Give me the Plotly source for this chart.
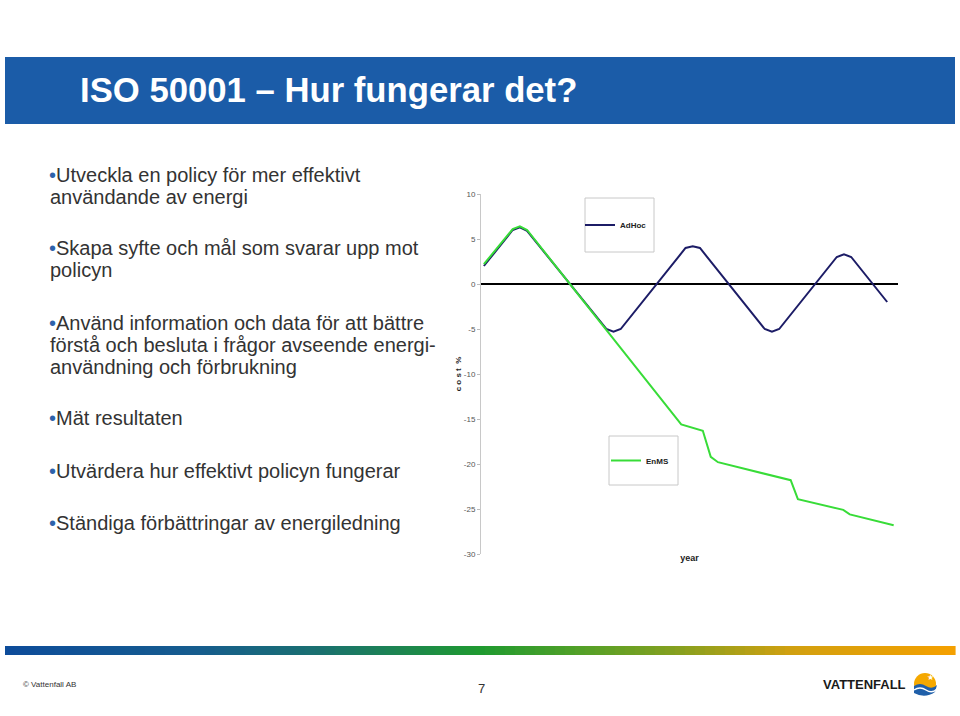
import plotly.graph_objects as go

W, H = 960, 716


def px(x):
    return x / W


def py(y):
    return 1 - y / H


# ---------------- data ----------------
adhoc_x = [0, 4, 5, 6, 17, 18, 19, 28, 29, 30, 39, 40, 41, 49, 50, 51, 56]
adhoc_y = [2.0, 6.0, 6.3, 5.9, -5.0, -5.3, -5.0, 4.0, 4.2, 4.0, -5.0, -5.3, -5.0, 3.0, 3.3, 3.0, -2.0]
enms_x = [0, 4, 5, 6, 27.4, 30.4, 31.5, 32.5, 42.6, 43.6, 49.9, 50.8, 56.9]
enms_y = [2.2, 6.1, 6.4, 6.0, -15.6, -16.3, -19.2, -19.8, -21.8, -23.9, -25.1, -25.6, -26.8]
y_ticks = [10, 5, 0, -5, -10, -15, -20, -25, -30]
y_ticktext = ["10", "5", "0", "-5", "-10", "-15", "-20", "-25", "-30"]
series_names = ["AdHoc", "EnMS"]

title_text = "ISO 50001 \u2013 Hur fungerar det?"
bullets = [
    ["Utveckla en policy för mer effektivt", "användande av energi"],
    ["Skapa syfte och mål som svarar upp mot", "policyn"],
    ["Använd information och data för att bättre",
     "förstå och besluta i frågor avseende energi-",
     "användning och förbrukning"],
    ["Mät resultaten"],
    ["Utvärdera hur effektivt policyn fungerar"],
    ["Ständiga förbättringar av energiledning"],
]
bullet_line_y = [[175, 197], [248, 270], [323, 345, 367], [418], [471], [523]]

FONT = "Liberation Sans, Arial, sans-serif"
NAVY = "#1c1c66"
GREEN = "#38dc38"
BLUE = "#1b5ca8"

fig = go.Figure()
fig.add_trace(go.Scatter(x=adhoc_x, y=adhoc_y, mode="lines", name=series_names[0],
                         line=dict(color=NAVY, width=2), legend="legend", showlegend=True))
fig.add_trace(go.Scatter(x=enms_x, y=enms_y, mode="lines", name=series_names[1],
                         line=dict(color=GREEN, width=2), legend="legend2", showlegend=True))

shapes = []
# banner
shapes.append(dict(type="rect", xref="paper", yref="paper", x0=px(5), x1=px(955),
                   y0=py(124), y1=py(57), fillcolor=BLUE, line=dict(width=0), layer="below"))
# legend boxes
shapes.append(dict(type="rect", xref="paper", yref="paper", x0=px(585), x1=px(654),
                   y0=py(252), y1=py(198), line=dict(color="#c8c8c8", width=1)))
shapes.append(dict(type="rect", xref="paper", yref="paper", x0=px(609), x1=px(678),
                   y0=py(485), y1=py(436), line=dict(color="#c8c8c8", width=1)))

# footer gradient bar
stops = [(0.0, (13, 76, 154)), (0.2, (22, 92, 142)), (0.33, (26, 112, 112)),
         (0.5, (31, 154, 48)), (0.6, (80, 160, 40)), (0.7, (130, 160, 32)),
         (0.83, (210, 160, 16)), (1.0, (245, 160, 0))]


def grad(t):
    for (t0, c0), (t1, c1) in zip(stops[:-1], stops[1:]):
        if t <= t1:
            f = (t - t0) / (t1 - t0)
            return "rgb(%d,%d,%d)" % tuple(round(a + (b - a) * f) for a, b in zip(c0, c1))
    return "rgb(%d,%d,%d)" % stops[-1][1]


x0b, x1b, nstrip = 5, 955, 95
step = (x1b - x0b) / nstrip
for i in range(nstrip):
    xa = x0b + i * step
    shapes.append(dict(type="rect", xref="paper", yref="paper", x0=px(xa), x1=px(xa + step + 0.6),
                       y0=py(655), y1=py(646), fillcolor=grad((i + 0.5) / nstrip),
                       line=dict(width=0), layer="below"))

# logo icon
shapes.append(dict(type="circle", xref="paper", yref="paper", x0=px(914), x1=px(936),
                   y0=py(695), y1=py(673), fillcolor="#f5a800", line=dict(width=0)))
shapes.append(dict(type="path", xref="paper", yref="paper",
                   path="M %f,%f Q %f,%f %f,%f Q %f,%f %f,%f L %f,%f Q %f,%f %f,%f Z" % (
                       px(914), py(686), px(920), py(682), px(926), py(686), px(932), py(690), px(937), py(685),
                       px(935), py(692), px(925), py(699), px(914), py(693)),
                   fillcolor="#1f5fa9", line=dict(width=0)))
shapes.append(dict(type="path", xref="paper", yref="paper",
                   path="M %f,%f Q %f,%f %f,%f Q %f,%f %f,%f" % (
                       px(914), py(690), px(920), py(686), px(926), py(690), px(932), py(694), px(937), py(689)),
                   line=dict(color="white", width=1.5)))

annotations = []
annotations.append(dict(text="<b>" + title_text + "</b>", x=px(78), y=py(90), xref="paper", yref="paper",
                        xanchor="left", yanchor="middle", showarrow=False,
                        font=dict(family=FONT, size=34.7, color="white")))
for lines, ys in zip(bullets, bullet_line_y):
    for j, (ln, yy) in enumerate(zip(lines, ys)):
        txt = ("<span style='color:#2e62aa'>\u2022</span>" + ln) if j == 0 else ln
        annotations.append(dict(text=txt, x=px(47 if j == 0 else 48), y=py(yy), xref="paper", yref="paper",
                                xanchor="left", yanchor="middle", showarrow=False,
                                font=dict(family=FONT, size=20, color="#333333")))
annotations.append(dict(text="\u00a9 Vattenfall AB", x=px(21), y=py(684), xref="paper", yref="paper",
                        xanchor="left", yanchor="middle", showarrow=False,
                        font=dict(family=FONT, size=8, color="#333333")))
annotations.append(dict(text="7", x=px(481), y=py(688), xref="paper", yref="paper",
                        xanchor="center", yanchor="middle", showarrow=False,
                        font=dict(family=FONT, size=13, color="#333333")))
annotations.append(dict(text="<b>VATTENFALL</b>", x=px(908), y=py(684), xref="paper", yref="paper",
                        xanchor="right", yanchor="middle", showarrow=False,
                        font=dict(family=FONT, size=13, color="#1a1a1a")))
annotations.append(dict(text="\u2605", x=px(930), y=py(677), xref="paper", yref="paper",
                        xanchor="center", yanchor="middle", showarrow=False,
                        font=dict(family="DejaVu Sans", size=8, color="white")))

legend_font = dict(family=FONT, size=8, color="#222222", weight="bold")

fig.update_layout(
    template="none",
    width=W, height=H, autosize=False,
    margin=dict(l=0, r=0, t=0, b=0),
    paper_bgcolor="white", plot_bgcolor="white",
    font=dict(family=FONT),
    showlegend=True,
    xaxis=dict(domain=[px(481), px(898)], range=[-0.4, 57.5], showgrid=False, zeroline=False,
               showticklabels=False, showline=False, ticks="",
               title=dict(text="year", standoff=0,
                          font=dict(family=FONT, size=9, color="#222222", weight="bold"))),
    yaxis=dict(domain=[py(554), py(194)], range=[-30, 10], tickvals=y_ticks, ticktext=y_ticktext,
               ticks="outside", ticklen=3, tickcolor="#bbbbbb", showline=True, linecolor="#c8c8c8",
               linewidth=1, showgrid=False, zeroline=True, zerolinecolor="black", zerolinewidth=2,
               tickfont=dict(family=FONT, size=8, color="#555555"),
               title=dict(text="c o s t  %", standoff=1,
                          font=dict(family=FONT, size=8, color="#222222", weight="bold"))),
    legend=dict(x=px(616), y=py(225), xanchor="center", yanchor="middle",
                bgcolor="rgba(0,0,0,0)", borderwidth=0, font=legend_font),
    legend2=dict(x=px(640), y=py(460.5), xanchor="center", yanchor="middle",
                 bgcolor="rgba(0,0,0,0)", borderwidth=0, font=legend_font),
    shapes=shapes,
    annotations=annotations,
)

fig.write_html("out.html")
